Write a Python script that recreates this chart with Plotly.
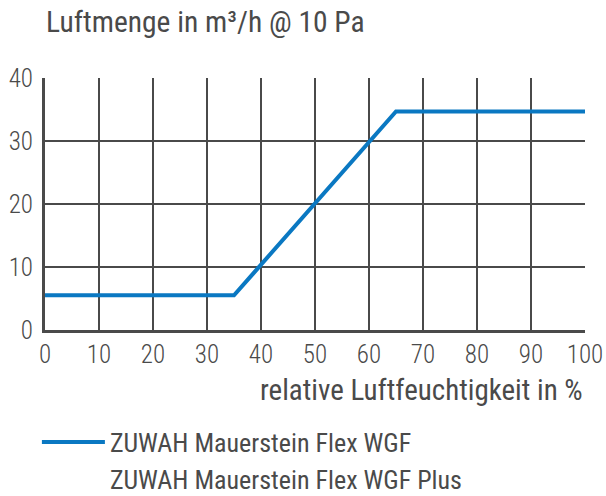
import plotly.graph_objects as go

# Data
humidity = [0, 35, 65, 100]            # relative Luftfeuchtigkeit in %
airflow_wgf = [5.5, 5.5, 34.7, 34.7]   # Luftmenge in m³/h @ 10 Pa
airflow_wgf_plus = [5.5, 5.5, 34.7, 34.7]
series_names = ["ZUWAH Mauerstein Flex WGF", "ZUWAH Mauerstein Flex WGF Plus"]
x_ticks = [0, 10, 20, 30, 40, 50, 60, 70, 80, 90, 100]
y_ticks = [0, 10, 20, 30, 40]

FONT = "Roboto Condensed, Liberation Sans Narrow, DejaVu Sans Condensed, sans-serif"
TXT = "#4a4a4a"
GRID = "#4a4a4a"
BLUE = "#0a78c2"

fig = go.Figure()
fig.add_trace(go.Scatter(
    x=humidity, y=airflow_wgf_plus, mode="lines", name=series_names[1],
    line=dict(color="rgba(0,0,0,0)", width=4), hoverinfo="skip",
))
fig.add_trace(go.Scatter(
    x=humidity, y=airflow_wgf, mode="lines", name=series_names[0],
    line=dict(color=BLUE, width=4),
))

fig.update_layout(
    width=606, height=496,
    margin=dict(l=45, r=21, t=78, b=166, autoexpand=False),
    paper_bgcolor="white", plot_bgcolor="white",
    font=dict(family=FONT, color=TXT),
    title=dict(text="Luftmenge in m³/h @ 10 Pa", x=46/606, xanchor="left",
               y=1 - 22/496, yanchor="middle", xref="container", yref="container",
               font=dict(size=29.5, color=TXT, family=FONT, weight=400)),
    showlegend=True,
    legend=dict(x=-0.015, xanchor="left", y=-0.352, yanchor="top",
                traceorder="reversed", itemwidth=63,
                font=dict(size=26, color=TXT, family=FONT, weight=400),
                bgcolor="rgba(0,0,0,0)", tracegroupgap=0),
    xaxis=dict(range=[0, 100], tickvals=x_ticks, ticktext=[str(v) for v in x_ticks],
               showgrid=True, gridcolor=GRID, gridwidth=1.5,
               showline=True, linecolor=GRID, linewidth=3,
               ticks="", zeroline=False, fixedrange=True, automargin=False,
               tickfont=dict(size=25, color=TXT, family=FONT, weight=300)),
    yaxis=dict(range=[0, 40], tickvals=y_ticks, ticktext=[str(v) for v in y_ticks],
               showgrid=True, gridcolor=GRID, gridwidth=1.5,
               showline=True, linecolor=GRID, linewidth=3,
               ticks="", ticklabelstandoff=4, zeroline=False, fixedrange=True,
               automargin=False,
               tickfont=dict(size=25, color=TXT, family=FONT, weight=300)),
    annotations=[dict(text="relative Luftfeuchtigkeit in %", xref="paper", yref="paper",
                      x=1, xanchor="right", y=-0.24, yanchor="middle", showarrow=False,
                      font=dict(size=29, color=TXT, family=FONT, weight=400))],
)

fig.write_html("out.html", config={"displayModeBar": False},
               post_script="document.body.style.margin='0';document.body.style.padding='0';")
